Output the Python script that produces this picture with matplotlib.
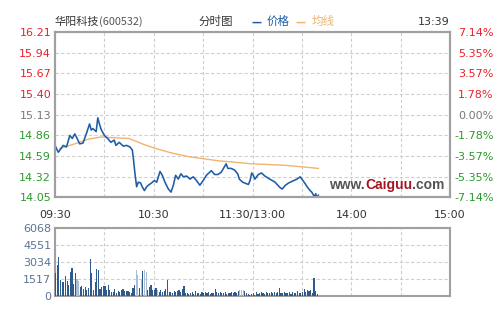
import matplotlib.pyplot as plt

# minute index from 09:30 (afternoon continues at 120) and price
price_min = [0, 2, 3, 5, 7, 9, 10.5, 12, 13, 15, 17, 19, 21, 22, 23, 25, 26, 27, 28, 30,
             32, 34, 36, 37, 39, 41.5, 43.5, 45.5, 47, 47.6, 48.6, 49.6, 50.6, 52, 53, 54.3,
             55.7, 56.7, 58.7, 60.3, 61.8, 63.8, 65.2, 66.8, 68.9, 70.5, 71.9, 73.3, 74.9,
             76.5, 78, 80, 82, 84, 86, 88, 90, 92, 95, 97, 99, 101, 104, 105, 107, 109, 111,
             112, 114, 117.5, 118.5, 119.5, 120.5, 121.5, 123.5, 125.5, 127.5, 130.5, 133.7,
             136.7, 138, 140, 142, 145, 147, 149, 150, 152, 153.5, 155, 156, 157.6, 158.4,
             159, 160]
price = [14.73, 14.64, 14.67, 14.73, 14.71, 14.86, 14.82, 14.88, 14.84, 14.75, 14.76, 14.88,
         15.01, 14.93, 14.95, 14.91, 15.09, 15.01, 14.94, 14.86, 14.82, 14.77, 14.80, 14.73,
         14.77, 14.72, 14.73, 14.71, 14.67, 14.56, 14.36, 14.19, 14.25, 14.24, 14.19, 14.14,
         14.19, 14.21, 14.24, 14.27, 14.25, 14.39, 14.34, 14.25, 14.16, 14.12, 14.21, 14.34,
         14.29, 14.36, 14.32, 14.33, 14.29, 14.32, 14.27, 14.21, 14.27, 14.34, 14.40, 14.35,
         14.35, 14.38, 14.49, 14.43, 14.43, 14.41, 14.36, 14.29, 14.25, 14.22, 14.27, 14.37,
         14.34, 14.29, 14.35, 14.37, 14.33, 14.29, 14.25, 14.18, 14.16, 14.21, 14.24, 14.27,
         14.29, 14.32, 14.29, 14.23, 14.18, 14.14, 14.12, 14.06, 14.10, 14.05, 14.08]

avg_min = [3, 12, 20, 28, 36, 45, 53, 61, 71, 82, 99, 119.5, 140, 160]
avg_price = [14.69, 14.75, 14.81, 14.84, 14.83, 14.82, 14.75, 14.69, 14.63, 14.58, 14.53,
             14.49, 14.47, 14.43]

volume = [2050, 2750, 3540, 1450, 1300, 1250, 1800, 1350, 1000, 2200,
          2550, 1100, 2100, 1500, 1400, 800, 950, 650, 800, 550,
          700, 3330, 2100, 550, 1250, 2450, 2350, 650, 800, 900,
          950, 600, 1000, 550, 400, 350, 650, 250, 450, 400,
          600, 650, 500, 450, 500, 350, 300, 750, 1000, 2350,
          1900, 700, 1450, 2300, 2350, 2200, 550, 850, 1000, 600,
          550, 700, 550, 400, 600, 350, 450, 650, 1450, 400,
          350, 300, 500, 400, 450, 550, 350, 650, 950, 250,
          300, 200, 250, 350, 200, 450, 250, 300, 200, 350,
          250, 400, 300, 350, 200, 250, 300, 650, 400, 300,
          350, 250, 300, 400, 200, 250, 300, 350, 250, 400,
          300, 500, 550, 600, 550, 450, 250, 200, 150, 200,
          250, 150, 350, 200, 250, 350, 300, 200, 400, 250,
          300, 350, 250, 400, 300, 350, 700, 300, 250, 350,
          300, 250, 400, 200, 350, 300, 250, 450, 300, 250,
          400, 650, 350, 600, 500, 550, 300, 1650, 500, 200]
light_bars = [13, 14, 49, 50, 52, 54, 55, 62, 112, 113, 114]

price_ticks = [16.21, 15.94, 15.67, 15.40, 15.13, 14.86, 14.59, 14.32, 14.05]
pct_labels = ["7.14%", "5.35%", "3.57%", "1.78%", "0.00%", "-1.78%", "-3.57%", "-5.35%", "-7.14%"]
time_ticks = [0, 60, 120, 180, 240]
time_labels = ["09:30", "10:30", "11:30/13:00", "14:00", "15:00"]
vol_ticks = [0, 1517, 3034, 4551, 6068]

RED = "#e8202a"
GREEN = "#2a9a2a"
MID = "#777777"
BLUE = "#1f5ca6"
ORANGE = "#f2b36e"
FRAME = "#a0a0a0"
GRID = "#cfcfcf"

fig = plt.figure(figsize=(5, 3.26), dpi=100)
ax = fig.add_axes([0.11, 0.3942, 0.79, 0.5076])
axv = fig.add_axes([0.11, 0.0911, 0.79, 0.2086])

# price panel
ax.plot(avg_min, avg_price, color=ORANGE, lw=1.0, zorder=3)
ax.plot(price_min, price, color=BLUE, lw=1.15, zorder=4)
ax.set_xlim(0, 240)
ax.set_ylim(14.05, 16.21)
ax.set_yticks(price_ticks)
ax.set_yticklabels(["%.2f" % p for p in price_ticks])
ax.grid(True, color=GRID, ls=(0, (3, 2)), lw=0.8)
ax.set_xticks(time_ticks)
ax.set_xticklabels(time_labels)
ax.set_xticks(range(30, 240, 60), minor=True)
ax.grid(True, which="minor", axis="x", color=GRID, ls=(0, (3, 2)), lw=0.8)
ax.tick_params(axis="both", which="both", length=0)
ax.tick_params(axis="y", pad=2.8, labelsize=8)
ax.tick_params(axis="x", pad=9, labelsize=8, labelcolor="#333333")
for lab, p in zip(ax.get_yticklabels(), price_ticks):
    lab.set_color(RED if p > 15.13 else (GREEN if p < 15.13 else MID))

ax2 = ax.twinx()
ax2.set_ylim(14.05, 16.21)
ax2.set_yticks(price_ticks)
ax2.set_yticklabels(pct_labels)
ax2.tick_params(axis="y", length=0, pad=31.5, labelsize=8)
for lab, p in zip(ax2.get_yticklabels(), price_ticks):
    lab.set_horizontalalignment("right")
    lab.set_color(RED if p > 15.13 else (GREEN if p < 15.13 else MID))

for a in (ax, ax2, axv):
    for s in a.spines.values():
        s.set_color(FRAME)
        s.set_linewidth(1.5)

# watermark
t1 = ax.text(0.695, 0.035, "www.", transform=ax.transAxes, color="#555555",
             fontsize=10, fontweight="bold", family="Liberation Sans", va="bottom", zorder=5)
t2 = ax.annotate("Caiguu", xy=(1, 0), xycoords=t1, color="#a3151f", fontsize=10,
                 fontweight="bold", family="Liberation Sans", va="bottom", zorder=5)
ax.annotate(".com", xy=(1, 0), xycoords=t2, color="#555555", fontsize=10,
            fontweight="bold", family="Liberation Sans", va="bottom", zorder=5)

# header
cjk = ["Noto Sans CJK SC", "DejaVu Sans"]
fig.text(0.11, 0.933, "华阳科技", family=cjk, fontsize=8, color="#333333", va="center")
fig.text(0.198, 0.933, "(600532)", family=cjk, fontsize=7.8, color="#555555", va="center")
fig.text(0.396, 0.933, "分时图", family=cjk, fontsize=8.3, color="#333333", va="center")
fig.text(0.504, 0.933, "—", family=cjk, fontsize=8, color=BLUE, va="center", fontweight="bold")
fig.text(0.534, 0.933, "价格", family=cjk, fontsize=8.3, color=BLUE, va="center")
fig.text(0.592, 0.933, "—", family=cjk, fontsize=8, color=ORANGE, va="center", fontweight="bold")
fig.text(0.624, 0.933, "均线", family=cjk, fontsize=8.3, color=ORANGE, va="center")
fig.text(0.90, 0.933, "13:39", fontsize=8, color="#333333", va="center", ha="right")

# volume panel
vol_x = list(range(len(volume)))
colors = ["#a9bdd4" if i in light_bars else "#2f5b8c" for i in vol_x]
axv.bar(vol_x, volume, width=0.7, color=colors, align="edge", zorder=3)
axv.set_xlim(0, 240)
axv.set_ylim(0, 6068)
axv.set_yticks(vol_ticks)
axv.set_yticklabels([str(v) for v in vol_ticks])
axv.set_xticks(range(0, 241, 30))
axv.set_xticklabels([])
axv.grid(True, color=GRID, ls=(0, (3, 2)), lw=0.8)
axv.tick_params(axis="both", length=0)
axv.tick_params(axis="y", pad=2.8, labelsize=8, labelcolor="#5d7494")

fig.savefig("out.png", dpi=100)
